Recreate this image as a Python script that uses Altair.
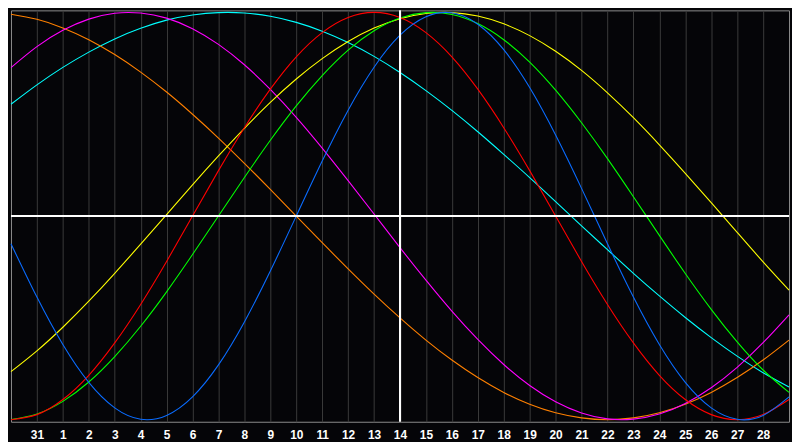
import json
import altair as alt
import pandas as pd

# x positions: day index 0..30 (0 = the 30th of the previous month, 15 = today, the 14th)
day_index = list(range(31))
# tick labels for day index 1..29
day_labels = ["31", "1", "2", "3", "4", "5", "6", "7", "8", "9", "10", "11", "12", "13",
              "14", "15", "16", "17", "18", "19", "20", "21", "22", "23", "24", "25",
              "26", "27", "28"]
today_index = 15

# curve values (-1 = bottom, +1 = top), one value per day index
physical = [-0.136, -0.398, -0.631, -0.817, -0.942, -0.998, -0.979, -0.888, -0.731, -0.520,
            -0.270, 0.000, 0.270, 0.520, 0.731, 0.888, 0.979, 0.998, 0.942, 0.817, 0.631,
            0.398, 0.136, -0.136, -0.398, -0.631, -0.817, -0.942, -0.998, -0.979, -0.888]
emotional = [-1.000, -0.975, -0.901, -0.782, -0.623, -0.434, -0.223, 0.000, 0.223, 0.434,
             0.623, 0.782, 0.901, 0.975, 1.000, 0.975, 0.901, 0.782, 0.623, 0.434, 0.223,
             0.000, -0.223, -0.434, -0.623, -0.782, -0.901, -0.975, -1.000, -0.975, -0.901]
intellectual = [-0.999, -0.972, -0.910, -0.815, -0.690, -0.541, -0.372, -0.189, 0.000, 0.189,
                0.372, 0.541, 0.690, 0.815, 0.910, 0.972, 0.999, 0.990, 0.945, 0.866, 0.756,
                0.618, 0.458, 0.282, 0.095, -0.095, -0.282, -0.458, -0.618, -0.756, -0.866]
intuitive = [0.729, 0.832, 0.912, 0.967, 0.996, 0.997, 0.972, 0.920, 0.843, 0.743, 0.622,
             0.485, 0.334, 0.174, 0.010, -0.155, -0.315, -0.467, -0.606, -0.729, -0.832,
             -0.912, -0.967, -0.996, -0.997, -0.972, -0.920, -0.843, -0.743, -0.622, -0.485]
aesthetic = [-0.764, -0.662, -0.546, -0.418, -0.281, -0.138, 0.007, 0.153, 0.295, 0.431,
             0.558, 0.673, 0.773, 0.857, 0.923, 0.969, 0.995, 0.999, 0.982, 0.944, 0.886,
             0.809, 0.715, 0.605, 0.483, 0.350, 0.210, 0.066, -0.080, -0.225, -0.364]
awareness = [0.991, 0.966, 0.924, 0.866, 0.793, 0.707, 0.609, 0.500, 0.383, 0.259, 0.131,
             0.000, -0.131, -0.259, -0.383, -0.500, -0.609, -0.707, -0.793, -0.866, -0.924,
             -0.966, -0.991, -1.000, -0.991, -0.966, -0.924, -0.866, -0.793, -0.707, -0.609]
spiritual = [0.549, 0.644, 0.730, 0.805, 0.870, 0.922, 0.962, 0.987, 0.999, 0.997, 0.981,
             0.951, 0.908, 0.852, 0.784, 0.705, 0.616, 0.519, 0.414, 0.303, 0.189, 0.071,
             -0.048, -0.165, -0.281, -0.392, -0.498, -0.597, -0.688, -0.769, -0.839]

series_names = ["Spiritual", "Awareness", "Intuitive", "Aesthetic", "Intellectual",
                "Emotional", "Physical"]
series_values = [spiritual, awareness, intuitive, aesthetic, intellectual, emotional, physical]
series_colors = ["#00ffff", "#ff8000", "#ff00ff", "#ffff00", "#00ff00", "#ff0000", "#0a6cff"]

rows = []
for order, (name, vals) in enumerate(zip(series_names, series_values)):
    for k, v in zip(day_index, vals):
        rows.append({"day": k, "value": v, "series": name, "order": order})
df = pd.DataFrame(rows)

label_expr = json.dumps(day_labels) + "[datum.value - 1]"

x_scale = alt.Scale(domain=[0, 30], nice=False, zero=False)
y_scale = alt.Scale(domain=[-1.01, 1.01], nice=False, zero=False)

x_axis = alt.Axis(
    values=list(range(1, 30)),
    labelExpr=label_expr,
    title=None,
    ticks=False,
    domain=False,
    grid=True,
    gridColor="#3a3a3a",
    gridWidth=1,
    labelColor="#ffffff",
    labelFont="Liberation Sans",
    labelFontWeight="bold",
    labelFontSize=12,
    labelPadding=8,
    labelAngle=0,
)

lines = alt.Chart(df).mark_line(interpolate="natural", strokeWidth=1.1).encode(
    x=alt.X("day:Q", scale=x_scale, axis=x_axis),
    y=alt.Y("value:Q", scale=y_scale, axis=None),
    color=alt.Color("series:N",
                    scale=alt.Scale(domain=series_names, range=series_colors),
                    legend=None),
    detail="order:O",
)

hline = alt.Chart(pd.DataFrame({"value": [0]})).mark_rule(
    color="#ffffff", strokeWidth=2
).encode(y=alt.Y("value:Q", scale=y_scale, axis=None))

vline = alt.Chart(pd.DataFrame({"day": [today_index]})).mark_rule(
    color="#ffffff", strokeWidth=2
).encode(x=alt.X("day:Q", scale=x_scale, axis=x_axis))

chart = (
    alt.layer(lines, hline, vline)
    .properties(width=783, height=414, background="#050508", padding=0)
    .configure_view(stroke="#8c8c8c", strokeWidth=1, fill="#050508")
)

chart.save("out.html", embed_options={"renderer": "svg", "actions": False})
